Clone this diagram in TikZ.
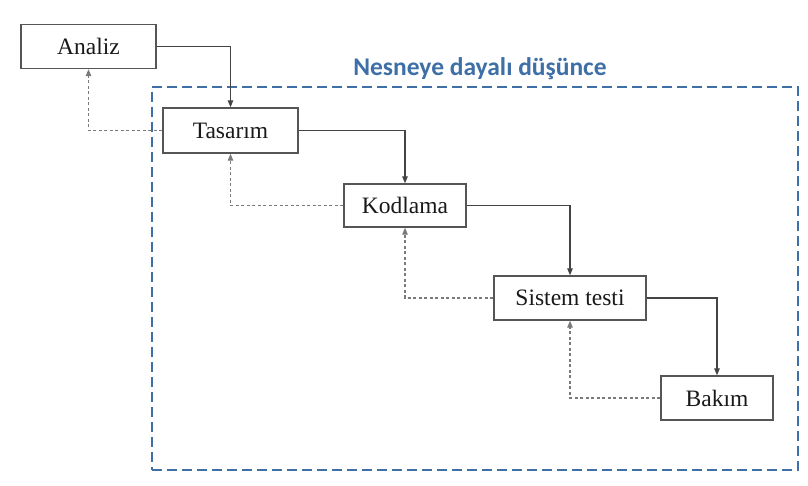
\documentclass[tikz,border=0pt]{standalone}
\usepackage{fontspec}
\setmainfont{Liberation Serif}
\newfontfamily\titlefont{Carlito}
\usetikzlibrary{arrows.meta}
\definecolor{ooblue}{HTML}{3E6FA6}
\definecolor{boxgray}{HTML}{555555}
\definecolor{linegray}{HTML}{444444}
\definecolor{fbgray}{HTML}{7A7A7A}
\begin{document}
\begin{tikzpicture}[x=1pt,y=-1pt,
  stage/.style={draw=boxgray, line width=1.4pt, fill=white, inner sep=0pt,
    font=\fontsize{23.5}{25}\selectfont, text=black!90},
  flow/.style={draw=linegray, line width=1.2pt, -{Triangle[length=7pt,width=5.5pt]}},
  fb/.style={draw=fbgray, line width=1.2pt, dash pattern=on 3pt off 2.5pt,
    -{Triangle[length=7pt,width=5.5pt]}},
  oobox/.style={draw=ooblue, line width=2.4pt, dash pattern=on 10pt off 5pt, inner sep=0pt},
  ootitle/.style={text=ooblue, font=\titlefont\bfseries\fontsize{25.5}{27}\selectfont, inner sep=0pt}
]
\useasboundingbox[fill=white] (0,0) rectangle (808,486);
% object-oriented region
\node[oobox, minimum width=646pt, minimum height=383pt] (oo) at (475,278.5) {};
\node[ootitle] (ootxt) at (480,69) {Nesneye dayalı düşünce};
% stages
\node[stage, minimum width=135pt, minimum height=44pt] (an) at (88.5,46.5) {Analiz};
\node[stage, minimum width=135pt, minimum height=45pt] (ta) at (230.5,130.5) {Tasarım};
\node[stage, minimum width=122pt, minimum height=43pt] (ko) at (405,205.5) {Kodlama};
\node[stage, minimum width=152pt, minimum height=44pt] (si) at (570,298) {Sistem testi};
\node[stage, minimum width=112pt, minimum height=44pt] (ba) at (717,398) {Bakım};
% forward flow
\draw[flow] (an.east) -| (ta.north);
\draw[flow] (ta.east) -| (ko.north);
\draw[flow] (ko.east) -| (si.north);
\draw[flow] (si.east) -| (ba.north);
% feedback
\draw[fb] (ta.west) -| (an.south);
\draw[fb] (ko.west) -| (ta.south);
\draw[fb] (si.west) -| (ko.south);
\draw[fb] (ba.west) -| (si.south);
\end{tikzpicture}
\end{document}
